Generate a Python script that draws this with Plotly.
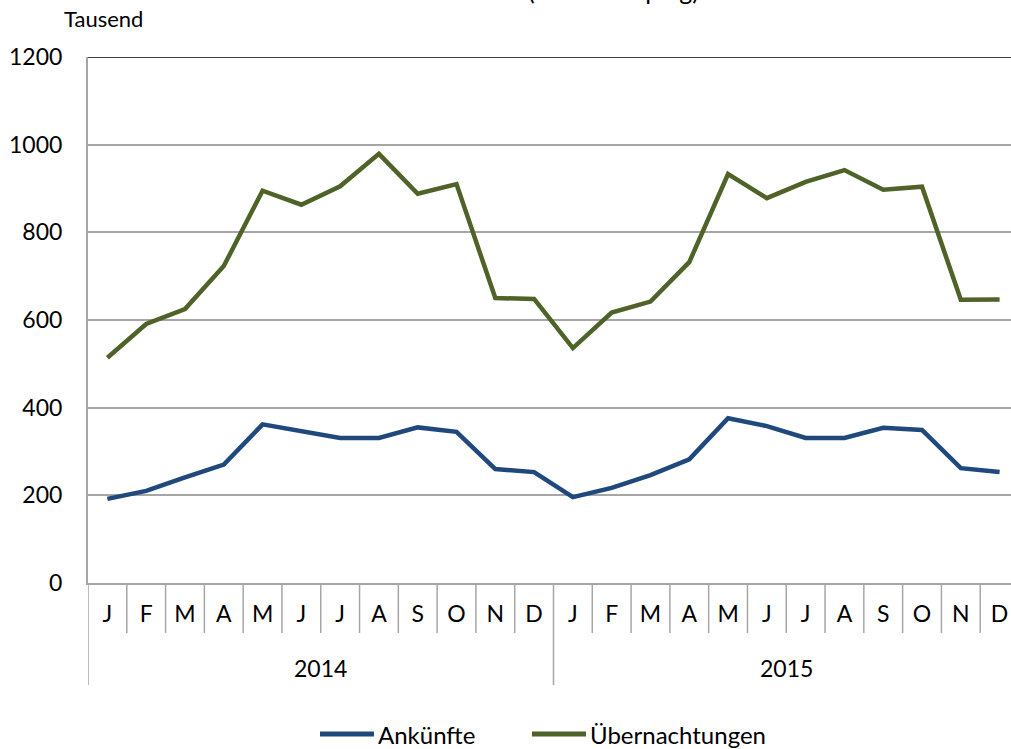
import plotly.graph_objects as go

months = ["J", "F", "M", "A", "M", "J", "J", "A", "S", "O", "N", "D"]
years = ["2014", "2015"]
series_names = ["Ankünfte", "Übernachtungen"]
series_colors = ["#1F497D", "#4F6228"]
ankuenfte = [192, 210, 241, 270, 362, 347, 331, 331, 355, 345, 260, 253,
             196, 217, 246, 282, 376, 358, 331, 331, 354, 349, 262, 253]
uebernachtungen = [514, 591, 625, 723, 895, 863, 905, 979, 888, 910, 650, 648,
                   536, 617, 642, 732, 933, 878, 915, 942, 897, 904, 646, 647]

n = len(months) * len(years)
xs = list(range(n))
ticktext = months * len(years)

FONT = "Lato"
W, HGT = 1011, 749
T, B, L = 57, 583, 88
H = B - T
PW = W - L

def py(px):
    return (B - px) / H

def pxx(px):
    return (px - L) / PW

fig = go.Figure()
for name, vals, col in zip(series_names, [ankuenfte, uebernachtungen], series_colors):
    fig.add_trace(go.Scatter(x=xs, y=vals, mode="lines", name=name, showlegend=False,
                             line=dict(color=col, width=4.5)))

shapes = []
for i in range(n):
    b = i - 0.5
    length = py(685) if i % 12 == 0 else py(633)
    shapes.append(dict(type="line", xref="x", yref="paper", x0=b, x1=b, y0=0, y1=length,
                       line=dict(color="#A6A6A6", width=1.5)))
shapes.append(dict(type="line", xref="paper", yref="y", x0=0, x1=1, y0=1200, y1=1200,
                   line=dict(color="#000000", width=1.5)))

annotations = []
for k, yr in enumerate(years):
    annotations.append(dict(x=k * 12 + 5.5, y=py(668), xref="x", yref="paper", text=yr,
                            showarrow=False, yanchor="middle",
                            font=dict(size=23, color="#000000", family=FONT)))
annotations.append(dict(x=pxx(62), y=py(19), xref="paper", yref="paper", text="Tausend",
                        showarrow=False, xanchor="left", yanchor="middle",
                        font=dict(size=22, color="#000000", family=FONT)))
annotations.append(dict(x=pxx(613), y=py(7), xref="paper", yref="paper",
                        text="(ohne Camping)", showarrow=False, xanchor="center",
                        yanchor="bottom", font=dict(size=25, color="#000000", family=FONT)))

# legend (drawn manually to match spacing)
leg_y = py(734)
for (x0, x1, tx), name, col in zip([(320, 374, 376), (532, 586, 588)], series_names, series_colors):
    shapes.append(dict(type="line", xref="paper", yref="paper", x0=pxx(x0), x1=pxx(x1),
                       y0=leg_y, y1=leg_y, line=dict(color=col, width=5)))
    annotations.append(dict(x=pxx(tx), y=leg_y, xref="paper", yref="paper", text=name,
                            showarrow=False, xanchor="left", yanchor="middle",
                            font=dict(size=24, color="#000000", family=FONT)))

fig.update_layout(
    width=W, height=HGT,
    margin=dict(l=L, r=0, t=T, b=HGT - B, autoexpand=False),
    paper_bgcolor="white", plot_bgcolor="white",
    font=dict(family=FONT, size=23, color="#000000"),
    showlegend=False,
    shapes=shapes,
    annotations=annotations,
)
fig.update_xaxes(range=[-0.5, 23.5 - 8 / 38.8], tickvals=xs, ticktext=ticktext,
                 showgrid=False, zeroline=False, ticks="", ticklabelstandoff=10,
                 showline=True, linecolor="#A6A6A6", linewidth=1.5, automargin=False,
                 tickfont=dict(size=23, family=FONT, color="#000000"), fixedrange=True)
fig.update_yaxes(range=[0, 1200], dtick=200, showgrid=True, gridcolor="#A6A6A6", gridwidth=1.5,
                 zeroline=False, showline=True, linecolor="#A6A6A6", linewidth=2,
                 ticks="", ticklabelstandoff=19, automargin=False,
                 tickfont=dict(size=23, family=FONT, color="#000000"), fixedrange=True)

fig.write_html("out.html", config={"displayModeBar": False},
               post_script="document.body.style.margin='0';document.body.style.overflow='hidden';")
